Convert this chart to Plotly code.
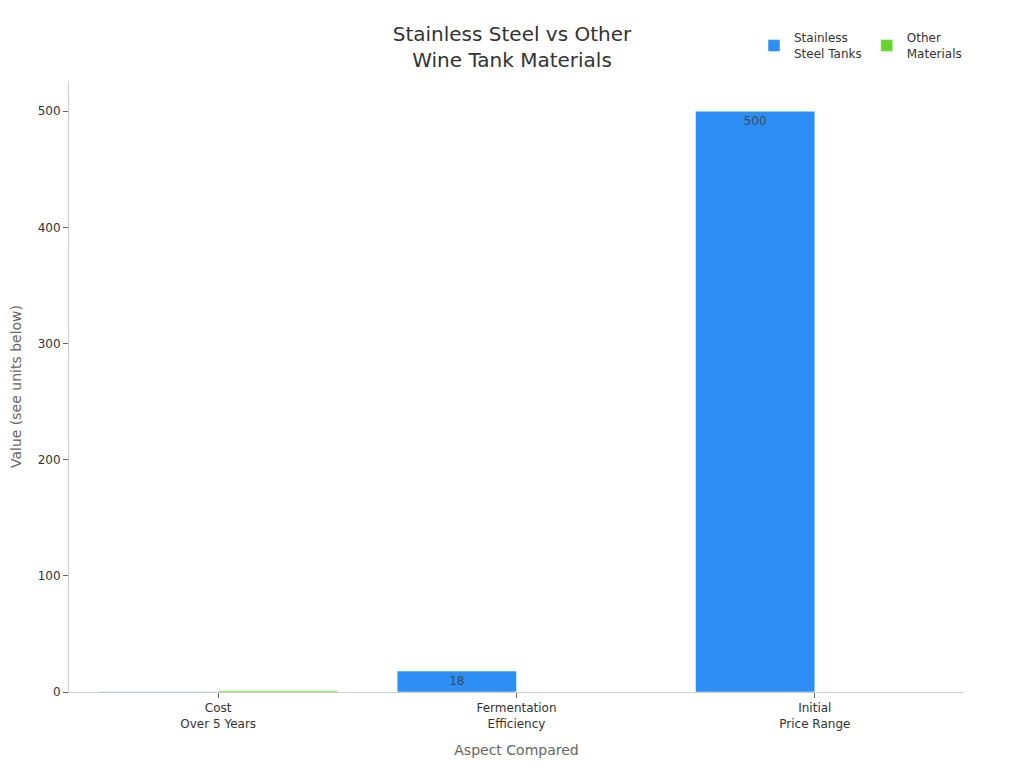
import plotly.graph_objects as go

categories = ["Cost<br>Over 5 Years", "Fermentation<br>Efficiency", "Initial<br>Price Range"]
stainless = [0.2, 18, 500]
other = [1, 0, 0]
series_names = ["Stainless<br>Steel Tanks", "Other<br>Materials"]
colors = ["#2d8ff6", "#66d42e"]

def labels(vals):
    return [str(v) if v >= 5 else "" for v in vals]

fig = go.Figure()
for name, vals, col in zip(series_names, [stainless, other], colors):
    fig.add_trace(go.Bar(
        x=categories, y=vals, name=name,
        marker=dict(color=col, line=dict(color="rgba(255,255,255,0.5)", width=1)),
        text=labels(vals), textposition="inside", insidetextanchor="end",
        textfont=dict(color="#3a4a5a", size=12), cliponaxis=False,
    ))

fig.update_layout(
    width=1024, height=768,
    barmode="group", bargap=0.2, bargroupgap=0,
    paper_bgcolor="white", plot_bgcolor="white",
    font=dict(family="DejaVu Sans", color="#333", size=12),
    title=dict(text="Stainless Steel vs Other<br>Wine Tank Materials", x=504/1024, xanchor="center",
               y=1 - 33/768, yanchor="middle", font=dict(size=20, color="#333")),
    margin=dict(l=61, r=68, t=73, b=84, autoexpand=False),
    legend=dict(orientation="h", x=1 + 3/895, xanchor="right", y=1 + 35/611, yanchor="middle",
                font=dict(size=12, color="#333"), itemwidth=30),
    xaxis=dict(title=dict(text="Aspect Compared", font=dict(size=14, color="#666"), standoff=15),
               showline=True, linecolor="#ccc", ticks="outside", tickcolor="#666", ticklen=5,
               tickfont=dict(size=12, color="#333")),
    yaxis=dict(title=dict(text="Value (see units below)", font=dict(size=14, color="#666"), standoff=16),
               automargin=False,
               range=[0, 526], showline=True, linecolor="#ccc", showgrid=False, zeroline=False,
               ticks="outside", tickcolor="#666", ticklen=5, tickvals=[0, 100, 200, 300, 400, 500],
               tickfont=dict(size=12, color="#333")),
)
fig.write_html("out.html")
